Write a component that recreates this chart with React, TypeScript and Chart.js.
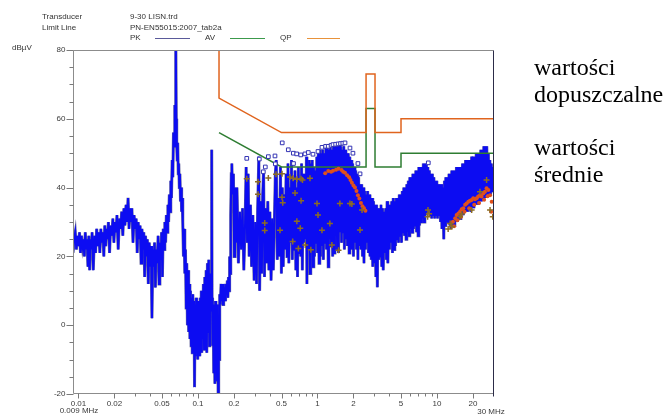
import React, { useEffect, useRef } from "react";
import { Chart, registerables } from "chart.js";

Chart.register(...registerables);

// ---- PK scan (frequency in MHz, level in dBµV) ----
const pkFreq = [
  0.0090, 0.0092, 0.0094, 0.0096, 0.0098, 0.0100, 0.0102, 0.0104, 0.0106, 0.0108,
  0.0110, 0.0112, 0.0114, 0.0116, 0.0118, 0.0120, 0.0122, 0.0124, 0.0126, 0.0128,
  0.0130, 0.0133, 0.0136, 0.0139, 0.0142, 0.0145, 0.0148, 0.0151, 0.0154, 0.0157,
  0.0160, 0.0163, 0.0166, 0.0169, 0.0172, 0.0175, 0.0178, 0.0182, 0.0186, 0.0190,
  0.0194, 0.0198, 0.0202, 0.0206, 0.0210, 0.0215, 0.0220, 0.0225, 0.0230, 0.0235,
  0.0240, 0.0245, 0.0250, 0.0255, 0.0260, 0.0265, 0.0270, 0.0275, 0.0280, 0.0286,
  0.0292, 0.0298,
  0.0304, 0.0310, 0.0316, 0.0322, 0.0328, 0.0334, 0.0340, 0.0346, 0.0352, 0.0358,
  0.0364, 0.0370, 0.0377, 0.0384, 0.0391, 0.0398, 0.0405, 0.0412, 0.0419, 0.0426,
  0.0433, 0.0440, 0.0448, 0.0456, 0.0464, 0.0472, 0.0480, 0.0488, 0.0496, 0.0504,
  0.0512, 0.0520, 0.0528,
  0.0536, 0.0544, 0.0552, 0.0560, 0.0568, 0.0576, 0.0584, 0.0592, 0.0600, 0.0608,
  0.0616, 0.0624, 0.0632, 0.0640, 0.0646, 0.0652, 0.0658, 0.0664, 0.0670, 0.0677,
  0.0684, 0.0691, 0.0698, 0.0706, 0.0714, 0.0722, 0.0730, 0.0738, 0.0746,
  0.0756, 0.0766, 0.0776, 0.0786, 0.0796, 0.0806, 0.0816, 0.0826, 0.0836, 0.0846,
  0.0856, 0.0866, 0.0876, 0.0886, 0.0896, 0.0906, 0.0916, 0.0926, 0.0936, 0.0946,
  0.0956, 0.0966, 0.0976, 0.0986, 0.0996, 0.1006, 0.1016, 0.1026, 0.1036, 0.1046,
  0.1056, 0.1066, 0.1076, 0.1086, 0.1096, 0.1110, 0.1125, 0.1140, 0.1155, 0.1170,
  0.1185, 0.1200, 0.1215, 0.1230, 0.1245, 0.1260, 0.1275, 0.1290, 0.1303, 0.1312,
  0.1325, 0.1340, 0.1355, 0.1370, 0.1385, 0.1400, 0.1415, 0.1430, 0.1445, 0.1460,
  0.1475, 0.1490, 0.1505, 0.1520,
  0.1540, 0.1560, 0.1580, 0.1600, 0.1620, 0.1640, 0.1660, 0.1680, 0.1700, 0.1720,
  0.1740, 0.1760, 0.1780, 0.1800, 0.1820, 0.1840, 0.1860, 0.1880, 0.1900, 0.1920,
  0.1950, 0.1980, 0.2010, 0.2040,
  0.208, 0.212, 0.218, 0.224, 0.230, 0.236, 0.242, 0.248, 0.253, 0.258,
  0.263, 0.268, 0.275, 0.281, 0.288, 0.295, 0.302, 0.309, 0.316, 0.323,
  0.328, 0.335, 0.342, 0.348, 0.354, 0.360, 0.368, 0.376, 0.384, 0.392,
  0.400, 0.409, 0.418, 0.427, 0.436, 0.444, 0.452, 0.461, 0.470, 0.480,
  0.490, 0.499, 0.508, 0.517, 0.526, 0.536, 0.546, 0.556, 0.566, 0.576,
  0.586, 0.596, 0.606, 0.616, 0.626, 0.637, 0.648, 0.659, 0.670, 0.681,
  0.692, 0.703, 0.714, 0.725, 0.736, 0.747, 0.758, 0.769, 0.780,
  0.800, 0.808, 0.816, 0.828, 0.840, 0.853, 0.866, 0.878, 0.891, 0.904,
  0.918, 0.931, 0.944, 0.958, 0.972, 0.986, 1.00, 1.015, 1.03,
  1.045, 1.06, 1.075, 1.09, 1.105, 1.12, 1.14, 1.16, 1.175, 1.19,
  1.21, 1.23, 1.245, 1.26, 1.28, 1.30, 1.32, 1.34, 1.36, 1.38,
  1.40, 1.42, 1.44, 1.46, 1.48, 1.50, 1.52, 1.54, 1.565, 1.59,
  1.615, 1.64, 1.66, 1.68, 1.705, 1.73, 1.755, 1.78, 1.81, 1.84,
  1.865, 1.89, 1.915, 1.94, 1.97, 2.00, 2.03, 2.06, 2.09, 2.12,
  2.15, 2.18, 2.21, 2.24, 2.275, 2.31, 2.345, 2.38, 2.415, 2.45,
  2.485, 2.52, 2.555, 2.59, 2.63, 2.67, 2.71, 2.75, 2.785, 2.82,
  2.86, 2.90, 2.945, 2.99, 3.035, 3.08, 3.125, 3.17, 3.215, 3.26,
  3.305, 3.35, 3.40, 3.45, 3.50, 3.55, 3.61, 3.67, 3.72, 3.77,
  3.825, 3.88, 3.94, 4.00, 4.06, 4.12, 4.18, 4.24, 4.305, 4.37,
  4.435, 4.50, 4.565, 4.63, 4.70, 4.77, 4.84, 4.91, 4.98, 5.05,
  5.125, 5.20, 5.275, 5.35, 5.43, 5.51, 5.59, 5.67, 5.755, 5.84,
  5.925, 6.01, 6.10, 6.19, 6.28, 6.37, 6.46, 6.55, 6.65, 6.75,
  6.85, 6.95, 7.05, 7.15, 7.255, 7.36, 7.47, 7.58, 7.69, 7.80,
  7.915, 8.03, 8.15, 8.27, 8.39, 8.51, 8.635, 8.76, 8.89, 9.02,
  9.15, 9.28, 9.42, 9.56, 9.70, 9.84, 9.97, 10.1, 10.25, 10.4,
  10.55, 10.7, 10.85, 11.0, 11.2, 11.4, 11.55, 11.7, 11.85, 12.0,
  12.2, 12.4, 12.6, 12.8, 12.95, 13.1, 13.3, 13.5, 13.7, 13.9,
  14.1, 14.3, 14.55, 14.8, 15.0, 15.2, 15.4, 15.6, 15.85, 16.1,
  16.35, 16.6, 16.85, 17.1, 17.35, 17.6, 17.85, 18.1, 18.35, 18.6,
  18.9, 19.2, 19.5, 19.8, 20.1, 20.4, 20.7, 21.0, 21.3, 21.6,
  21.9, 22.2, 22.55, 22.9, 23.25, 23.6, 23.95, 24.3, 24.65, 25.0,
  25.35, 25.7, 26.1, 26.5, 26.9, 27.3, 27.7, 28.1, 28.5, 28.9,
  29.35, 29.8, 30.0,
];
const pkLevel = [
  21, 25, 27, 22, 26, 23, 27, 21, 26, 23,
  25, 20, 27, 22, 25, 17, 26, 16, 25, 22,
  27, 16, 26, 21, 28, 23, 27, 21, 28, 24,
  27, 20, 29, 23, 28, 25, 30, 21, 29, 26,
  31, 24, 30, 27, 32, 22, 31, 28, 33, 26,
  34, 29, 35, 30, 37, 28, 34, 30, 34, 24,
  32, 28,
  31, 21, 30, 25, 29, 18, 28, 22, 27, 14,
  26, 20, 25, 12, 24, 17, 23, 2, 22, 17,
  24, 11, 22, 18, 26, 12, 24, 19, 27, 14,
  28, 22, 30,
  24, 32, 27, 35, 30, 38, 33, 42, 37, 48,
  43, 56, 52, 64, 58, 85, 60, 52, 48, 53,
  44, 47, 40, 44, 36, 40, 33, 37, 30,
  20, 28, 15, 22, 5, 18, 0, 16, -2, 12,
  -4, 10, -6, 8, -8, 9, -5, 7, -18, 6,
  -9, 8, -6, 5, -10, 7, -7, 6, -9, 8,
  -5, 10, -8, 9, -4, 12, -7, 14, -3, 16,
  -8, 18, -2, 19, -6, 15, 4, 12, 51, 8,
  -6, 6, -14, 4, -17, 7, -11, 5, -16, 6,
  -20, 3, -10, 9,
  6, 12, 7, 11, 6, 12, 8, 11, 7, 12,
  9, 13, 8, 14, 10, 20, 15, 32, 44, 47,
  38, 44, 20, 40,
  24, 40, 18, 33, 22, 34, 16, 30, 46, 24,
  44, 20, 35, 17, 32, 13, 30, 12, 34, 49,
  10, 36, 15, 38, 45, 14, 34, 18, 36, 16,
  33, 13, 31, 16, 30, 44, 48, 19, 37, 20,
  46, 15, 40, 17, 38, 22, 44, 20, 47, 18,
  40, 24, 48, 19, 42, 22, 45, 16, 40, 14,
  46, 21, 42, 20, 47, 16, 44, 24, 44,
  25, 49, 12, 46, 22, 48, 15, 47, 22, 48,
  17, 46, 20, 45, 24, 49, 21, 50, 18,
  51, 20, 50, 23, 51, 19, 50, 24, 52, 22,
  52, 17, 51, 25, 52, 23, 51, 20, 52, 21,
  52, 26, 53, 22, 52, 21, 53, 27, 52, 24,
  51, 27, 52, 22, 51, 25, 50, 23, 50, 21,
  49, 25, 48, 22, 47, 20, 46, 24, 45, 22,
  44, 19, 43, 23, 41, 22, 41, 20, 40, 18,
  39, 22, 38, 24, 39, 21, 38, 20, 37, 19,
  37, 17, 36, 18, 35, 14, 35, 11, 34, 19,
  34, 20, 35, 17, 34, 16, 33, 21, 34, 19,
  36, 18, 35, 22, 35, 24, 36, 21, 37, 22,
  36, 23, 37, 25, 37, 24, 38, 26, 38, 24,
  39, 27, 40, 26, 40, 25, 41, 27, 42, 26,
  43, 28, 43, 27, 44, 28, 44, 29, 45, 27,
  45, 26, 46, 29, 46, 30, 46, 31, 47, 30,
  47, 32, 47, 33, 46, 33, 45, 32, 44, 31,
  44, 32, 43, 31, 42, 32, 42, 31, 41, 32,
  41, 30, 41, 28, 40, 25, 42, 29, 43, 30,
  43, 30, 44, 29, 44, 28, 45, 29, 45, 29,
  45, 30, 46, 30, 46, 31, 46, 31, 46, 32,
  47, 32, 47, 33, 48, 33, 48, 33, 48, 34,
  48, 33, 49, 34, 49, 34, 49, 35, 50, 35,
  50, 35, 50, 36, 51, 36, 51, 37, 52, 37,
  52, 37, 52, 38, 50, 38, 48, 38, 47, 39,
  46, 40, 42,
];

// ---- Limit lines (PN-EN55015:2007 tab2a) ----
const qpLimitFreq = [0.15, 0.15, 0.5, 2.55, 2.55, 3.03, 3.03, 5, 5, 30];
const qpLimitLevel = [80, 66, 56, 56, 73, 73, 56, 56, 60, 60];
const avLimitFreq = [0.15, 0.5, 2.55, 2.55, 3.03, 3.03, 5, 5, 30];
const avLimitLevel = [56, 46, 46, 63, 63, 46, 46, 50, 50];

// ---- Final measurement markers ----
const sqFreq = [0.256, 0.326, 0.352, 0.366, 0.388, 0.441, 0.444, 0.507, 0.570, 0.628, 0.630, 0.670, 0.724, 0.786, 0.838, 0.917, 1.01, 1.09, 1.17, 1.23, 1.30, 1.35, 1.42, 1.49, 1.56, 1.63, 1.70, 1.87, 1.98, 2.18, 2.27, 8.46];
const sqLevel = [48.5, 48.3, 44.6, 46.0, 49.0, 49.2, 46.9, 53.0, 51.0, 50.0, 47.0, 49.8, 49.5, 49.8, 50.2, 49.7, 50.5, 51.7, 52.0, 52.0, 52.3, 52.5, 52.6, 52.7, 52.8, 52.9, 53.0, 51.5, 50.0, 47.0, 44.0, 47.2];

const plusFreq = [0.256, 0.318, 0.318, 0.388, 0.362, 0.362, 0.450, 0.505, 0.505, 0.486, 0.512, 0.589, 0.624, 0.649, 0.674, 0.672, 0.620, 0.692, 0.729, 0.729, 0.718, 0.749, 0.790, 0.866, 0.880, 0.991, 1.01, 1.09, 1.27, 1.32, 1.50, 1.54, 1.87, 1.94, 2.27, 2.36, 8.35, 8.41, 8.60, 12.4, 12.9, 13.3, 15.6, 16.1, 19.5, 22.9, 26.0, 27.8, 29.3];
const plusLevel = [42.6, 41.7, 38.1, 42.8, 29.7, 27.5, 43.9, 44.0, 37.2, 27.6, 35.6, 43.1, 42.7, 38.4, 42.4, 30.2, 24.3, 22.3, 42.6, 36.2, 28.2, 42.2, 23.3, 42.7, 21.9, 35.4, 32.0, 27.6, 29.6, 23.3, 21.8, 35.4, 35.4, 35.2, 27.7, 33.5, 31.5, 33.5, 32.4, 28.0, 29.6, 28.6, 31.5, 32.3, 33.5, 38.8, 42.2, 33.5, 31.5];

const dotFreq = [1.16, 1.23, 1.30, 1.35, 1.43, 1.50, 1.59, 1.64, 1.70, 1.77, 1.84, 1.89, 1.94, 2.00, 2.06, 2.12, 2.18, 2.24, 2.31, 2.38, 2.45, 2.52,
  13.6, 14.2, 14.6, 15.1, 15.6, 16.1, 16.6, 17.2, 17.7, 18.3, 18.9, 19.5, 20.1, 20.8, 21.5, 22.1, 22.9, 23.6, 24.4, 25.2, 26.0, 26.9, 27.8, 28.7,
  13.9, 14.8, 15.9, 17.0, 18.6, 20.5, 22.5, 24.8, 26.5, 28.4];
const dotLevel = [44.2, 44.8, 44.6, 44.9, 45.2, 45.5, 45.1, 44.6, 44.3, 43.6, 43.0, 42.2, 41.4, 40.6, 40.0, 39.0, 37.8, 36.8, 35.5, 34.6, 34.0, 33.3,
  30.1, 31.1, 32.0, 32.5, 33.0, 33.7, 34.0, 35.0, 35.4, 35.9, 36.2, 36.4, 36.9, 36.6, 36.9, 37.4, 37.8, 37.4, 38.3, 38.8, 39.8, 39.3, 37.8, 35.9,
  28.8, 30.5, 31.5, 33.0, 34.0, 35.0, 35.5, 36.5, 37.5, 33.0];

// ---- Axis ticks ----
const xMajorTicks = [0.01, 0.02, 0.05, 0.1, 0.2, 0.5, 1, 2, 5, 10, 20];
const xTickLabels = ["0.01", "0.02", "0.05", "0.1", "0.2", "0.5", "1", "2", "5", "10", "20"];
const xMinorTicks = [0.03, 0.04, 0.06, 0.07, 0.08, 0.09, 0.3, 0.4, 0.6, 0.7, 0.8, 0.9, 3, 4, 6, 7, 8, 9];
const yMajorTicks = [80, 60, 40, 20, 0, -20];
const yTickLabels = ["80", "60", "40", "20", "0", "-20"];
const yMinorTicks = [75, 70, 65, 55, 50, 45, 35, 30, 25, 15, 10, 5, -5, -10, -15];

const pts = (xs: number[], ys: number[]) =>
  xs.slice(0, Math.min(xs.length, ys.length)).map((x, i) => ({ x, y: ys[i] }));

const axesPlugin = {
  id: "emcAxes",
  afterDatasetsDraw(chart: any) {
    const { ctx, chartArea: a, scales } = chart;
    const xs = scales.x;
    const ys = scales.y;
    const L = Math.round(a.left) + 0.5;
    const R = Math.round(a.right) - 0.5;
    const T = Math.round(a.top) + 0.5;
    const B = Math.round(a.bottom) - 0.5;
    ctx.save();
    ctx.lineWidth = 1;
    ctx.strokeStyle = "#8c8c8c";
    ctx.beginPath();
    ctx.moveTo(L, T); ctx.lineTo(R, T);
    ctx.moveTo(L, T); ctx.lineTo(L, B);
    ctx.moveTo(L, B); ctx.lineTo(R, B);
    ctx.stroke();
    ctx.strokeStyle = "#2c2c48";
    ctx.beginPath();
    ctx.moveTo(R, T); ctx.lineTo(R, B + 3);
    ctx.stroke();

    ctx.strokeStyle = "#7a7a7a";
    ctx.beginPath();
    yMajorTicks.forEach((v) => {
      const y = Math.round(ys.getPixelForValue(v)) + 0.5;
      ctx.moveTo(L - 7, y); ctx.lineTo(L, y);
    });
    yMinorTicks.forEach((v) => {
      const y = Math.round(ys.getPixelForValue(v)) + 0.5;
      ctx.moveTo(L - 4, y); ctx.lineTo(L, y);
    });
    xMajorTicks.forEach((f) => {
      const x = Math.round(xs.getPixelForValue(f)) + 0.5;
      ctx.moveTo(x, B); ctx.lineTo(x, B + 5);
    });
    xMinorTicks.forEach((f) => {
      const x = Math.round(xs.getPixelForValue(f)) + 0.5;
      ctx.moveTo(x, B); ctx.lineTo(x, B + 3);
    });
    ctx.stroke();

    ctx.fillStyle = "#3a3a3a";
    ctx.font = "8px 'Liberation Sans', Arial, sans-serif";
    ctx.textAlign = "right";
    ctx.textBaseline = "middle";
    yMajorTicks.forEach((v, i) => ctx.fillText(yTickLabels[i], L - 8, ys.getPixelForValue(v)));
    ctx.textAlign = "center";
    xMajorTicks.forEach((f, i) => ctx.fillText(xTickLabels[i], xs.getPixelForValue(f), B + 10));
    ctx.fillText("0.009 MHz", xs.getPixelForValue(0.009) + 6, B + 17);
    ctx.fillText("30 MHz", xs.getPixelForValue(30) - 3, B + 18);
    ctx.restore();
  },
};

const smallText: React.CSSProperties = {
  position: "absolute",
  font: "8px 'Liberation Sans', Arial, sans-serif",
  lineHeight: "8px",
  color: "#333",
  whiteSpace: "nowrap",
};
const noteText: React.CSSProperties = {
  position: "absolute",
  font: "24px 'Liberation Serif', 'Times New Roman', serif",
  lineHeight: "24px",
  color: "#000",
  whiteSpace: "nowrap",
};
const legendLine = (left: number, width: number, color: string): React.CSSProperties => ({
  position: "absolute",
  left,
  top: 38,
  width,
  height: 0,
  borderTop: `1px solid ${color}`,
});

export default function App() {
  const canvasRef = useRef<HTMLCanvasElement | null>(null);

  useEffect(() => {
    const canvas = canvasRef.current;
    if (!canvas) return;
    const pkData = pts(pkFreq, pkLevel);
    const chart = new Chart(canvas, {
      type: "line",
      data: {
        datasets: [
          {
            label: "QP final",
            data: pts(sqFreq, sqLevel),
            showLine: false,
            pointStyle: "rect",
            pointRadius: 2.6,
            pointBorderWidth: 1,
            pointBorderColor: "#3434b4",
            pointBackgroundColor: "#ffffff",
          },
          {
            label: "AV final",
            data: pts(plusFreq, plusLevel),
            showLine: false,
            pointStyle: "cross",
            pointRadius: 3,
            pointBorderWidth: 1.5,
            pointBorderColor: "#8c6c24",
            pointBackgroundColor: "#8c6c24",
          },
          {
            label: "QP points",
            data: pts(dotFreq, dotLevel),
            showLine: false,
            pointStyle: "circle",
            pointRadius: 2,
            pointBorderWidth: 0,
            pointBorderColor: "#e0501c",
            pointBackgroundColor: "#e0501c",
          },
          {
            label: "QP",
            data: pts(qpLimitFreq, qpLimitLevel),
            borderColor: "#e0641e",
            borderWidth: 1.5,
            pointRadius: 0,
            tension: 0,
          },
          {
            label: "AV",
            data: pts(avLimitFreq, avLimitLevel),
            borderColor: "#2e7d32",
            borderWidth: 1.5,
            pointRadius: 0,
            tension: 0,
          },
          {
            label: "PK",
            data: pkData,
            borderColor: "#0c0cf2",
            borderWidth: 2,
            pointRadius: 0,
            tension: 0,
          },
          {
            label: "PK edge",
            data: pkData,
            borderColor: "#64649e",
            borderWidth: 3,
            pointRadius: 0,
            tension: 0,
          },
        ],
      },
      options: {
        animation: false,
        responsive: false,
        maintainAspectRatio: false,
        devicePixelRatio: 1,
        events: [],
        layout: { padding: { left: 73, right: 172, top: 50, bottom: 24 } },
        plugins: { legend: { display: false }, tooltip: { enabled: false } },
        scales: {
          x: { type: "logarithmic", min: 0.009, max: 30, display: false },
          y: { type: "linear", min: -20, max: 80, display: false },
        },
      },
      plugins: [axesPlugin],
    });
    return () => chart.destroy();
  }, []);

  return (
    <div style={{ position: "absolute", left: 0, top: 0, width: 666, height: 418, background: "#fff", overflow: "hidden" }}>
      <canvas ref={canvasRef} width={666} height={418} style={{ position: "absolute", left: 0, top: 0, width: 666, height: 418 }} />
      <div style={{ ...smallText, left: 42, top: 13 }}>Transducer</div>
      <div style={{ ...smallText, left: 42, top: 24 }}>Limit Line</div>
      <div style={{ ...smallText, left: 130, top: 13 }}>9-30 LISN.trd</div>
      <div style={{ ...smallText, left: 130, top: 24 }}>PN-EN55015:2007_tab2a</div>
      <div style={{ ...smallText, left: 130, top: 34 }}>PK</div>
      <div style={legendLine(155, 35, "#5a5a9a")} />
      <div style={{ ...smallText, left: 205, top: 34 }}>AV</div>
      <div style={legendLine(230, 35, "#3c9a4c")} />
      <div style={{ ...smallText, left: 280, top: 34 }}>QP</div>
      <div style={legendLine(307, 33, "#e8923a")} />
      <div style={{ ...smallText, left: 12, top: 44 }}>dBµV</div>
      <div style={{ ...noteText, left: 534, top: 55 }}>wartości</div>
      <div style={{ ...noteText, left: 534, top: 82 }}>dopuszczalne</div>
      <div style={{ ...noteText, left: 534, top: 135 }}>wartości</div>
      <div style={{ ...noteText, left: 534, top: 162 }}>średnie</div>
    </div>
  );
}
